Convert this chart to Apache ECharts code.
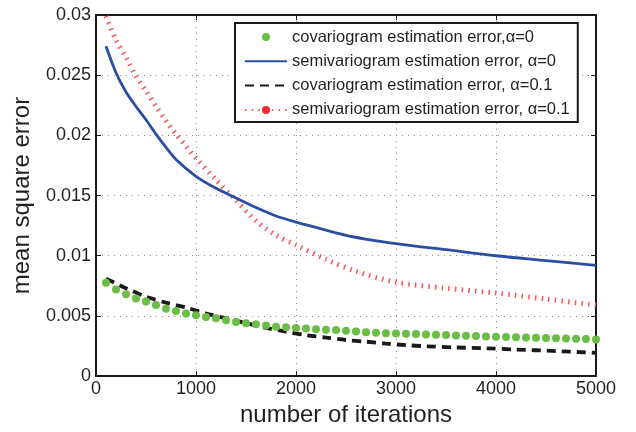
<!DOCTYPE html>
<html>
<head>
<meta charset="utf-8">
<script src="https://cdn.jsdelivr.net/npm/echarts@6/dist/echarts.min.js"></script>
<style>
  html, body { margin: 0; padding: 0; background: #fff; }
  #chart { width: 636px; height: 432px; }
</style>
</head>
<body>
<div id="chart"></div>
<script>
// values
var xTicks = [0, 1000, 2000, 3000, 4000, 5000];
var yTicks = [0, 0.005, 0.01, 0.015, 0.02, 0.025, 0.03];

// green dots, alpha=0 covariogram (one dot every 100 iterations)
var covIter = [100,200,300,400,500,600,700,800,900,1000,1100,1200,1300,1400,1500,1600,1700,1800,1900,2000,
  2100,2200,2300,2400,2500,2600,2700,2800,2900,3000,3100,3200,3300,3400,3500,3600,3700,3800,3900,4000,
  4100,4200,4300,4400,4500,4600,4700,4800,4900,5000];
var cov0 = [0.00775,0.0072,0.0068,0.00645,0.0062,0.0059,0.0056,0.0054,0.0052,0.00505,
  0.0049,0.0048,0.00465,0.0045,0.0044,0.0043,0.0042,0.0041,0.00405,0.0040,
  0.00396,0.0039,0.00385,0.00382,0.00376,0.00371,0.00365,0.0036,0.00357,0.00354,
  0.00352,0.00349,0.00346,0.00344,0.00341,0.00338,0.00335,0.00333,0.0033,0.00327,
  0.00325,0.00322,0.0032,0.00318,0.00316,0.00314,0.00312,0.0031,0.00308,0.00305];

// blue solid, alpha=0 semivariogram
var semi0Iter = [100,200,300,400,500,600,700,800,1000,1200,1400,1600,1800,2000,2500,3000,3500,4000,4500,5000];
var semi0 = [0.0274,0.0252,0.0236,0.0224,0.0213,0.0201,0.0190,0.0180,0.0166,0.0156,0.0148,0.0140,0.0133,0.0128,0.0117,0.0110,0.0105,0.0100,0.0096,0.0092];

// black dashed, alpha=0.1 covariogram
var cov1Iter = [100,300,500,700,900,1100,1300,1500,1700,1900,2100,2300,2500,2700,2900,3100,3300,3600,3900,4200,4600,5000];
var cov1 = [0.0081,0.0073,0.0066,0.0061,0.0057,0.0052,0.0048,0.0044,0.0040,0.0037,0.0034,0.0032,0.0030,0.00286,0.0027,0.00257,0.00248,0.00238,0.00231,0.00221,0.00208,0.00193];

// red dotted, alpha=0.1 semivariogram
var semi1Iter = [100,200,300,400,500,600,700,800,900,1000,1200,1400,1600,1800,2000,2300,2600,3000,3500,4000,4500,5000];
var semi1 = [0.0299,0.0279,0.0265,0.0249,0.0237,0.0224,0.0212,0.0201,0.0191,0.0181,0.0163,0.0146,0.0129,0.0117,0.0109,0.0097,0.0087,0.0078,0.0073,0.0069,0.0064,0.0059];

var names = [
  'covariogram estimation error,α=0',
  'semivariogram estimation error, α=0',
  'covariogram estimation error, α=0.1',
  'semivariogram estimation error, α=0.1'
];

function pairs(xs, ys) {
  var out = [];
  for (var i = 0; i < xs.length; i++) out.push([xs[i], ys[i]]);
  return out;
}

var txt = '#231f20';
var font = '"Liberation Sans", Arial, Helvetica, sans-serif';
// hide the legend marker for the plain line entries
var noMark = { color: 'rgba(0,0,0,0)', borderWidth: 0, borderColor: 'rgba(0,0,0,0)' };

var chart = echarts.init(document.getElementById('chart'), null, { renderer: 'canvas' });

var option = {
  animation: false,
  backgroundColor: '#fff',
  textStyle: { fontFamily: font, color: txt },
  grid: { left: 96, right: 40, top: 15, bottom: 53 },
  legend: {
    orient: 'vertical',
    left: 235,
    top: 23,
    padding: [5, 8, 3, 9],
    borderColor: '#1a1a1a',
    borderWidth: 2,
    backgroundColor: '#fff',
    itemWidth: 42,
    itemHeight: 10,
    itemGap: 6.3,
    textStyle: { fontSize: 16.5, lineHeight: 18, color: txt, fontFamily: font },
    data: [
      { name: names[0] },
      { name: names[1], itemStyle: noMark },
      { name: names[2], itemStyle: noMark },
      { name: names[3] }
    ]
  },
  xAxis: [{
    type: 'value',
    min: xTicks[0],
    max: xTicks[xTicks.length - 1],
    interval: 1000,
    name: 'number of iterations',
    nameLocation: 'middle',
    nameGap: 20,
    nameTextStyle: { fontSize: 24, color: txt, verticalAlign: 'top' },
    axisLine: { onZero: false, lineStyle: { color: '#1a1a1a', width: 2 } },
    axisTick: { inside: true, length: 5, lineStyle: { color: '#1a1a1a', width: 1 } },
    axisLabel: { fontSize: 18, color: txt, margin: 4, formatter: function (v) { return String(v); } },
    splitLine: { show: true, lineStyle: { color: '#8a8a8a', width: 1, type: [1, 5] } }
  }, {
    type: 'value',
    position: 'top',
    min: xTicks[0],
    max: xTicks[xTicks.length - 1],
    interval: 1000,
    axisLine: { onZero: false, lineStyle: { color: '#1a1a1a', width: 2 } },
    axisTick: { inside: true, length: 5, lineStyle: { color: '#1a1a1a', width: 1 } },
    axisLabel: { show: false },
    splitLine: { show: false }
  }],
  yAxis: [{
    type: 'value',
    min: yTicks[0],
    max: yTicks[yTicks.length - 1],
    interval: 0.005,
    name: 'mean square error',
    nameLocation: 'middle',
    nameGap: 62,
    nameTextStyle: { fontSize: 24, color: txt },
    axisLine: { show: true, onZero: false, lineStyle: { color: '#1a1a1a', width: 2 } },
    axisTick: { show: true, inside: true, length: 5, lineStyle: { color: '#1a1a1a', width: 1 } },
    axisLabel: { fontSize: 18, color: txt, margin: 5 },
    splitLine: { show: true, lineStyle: { color: '#8a8a8a', width: 1, type: [1, 5] } }
  }, {
    type: 'value',
    position: 'right',
    min: yTicks[0],
    max: yTicks[yTicks.length - 1],
    interval: 0.005,
    axisLine: { show: true, onZero: false, lineStyle: { color: '#1a1a1a', width: 2 } },
    axisTick: { show: true, inside: true, length: 5, lineStyle: { color: '#1a1a1a', width: 1 } },
    axisLabel: { show: false },
    splitLine: { show: false }
  }],
  series: [
    {
      name: names[3],
      type: 'line',
      data: pairs(semi1Iter, semi1),
      symbol: 'circle',
      showSymbol: false,
      smooth: 0.3,
      itemStyle: { color: '#f4282d' },
      lineStyle: { color: '#f4565b', width: 5, type: [1.5, 5.2], cap: 'butt' },
      z: 2
    },
    {
      name: names[1],
      type: 'line',
      data: pairs(semi0Iter, semi0),
      symbol: 'circle',
      showSymbol: false,
      smooth: 0.3,
      itemStyle: { color: '#2b4ea2' },
      lineStyle: { color: '#2b4ea2', width: 2.8 },
      z: 3
    },
    {
      name: names[2],
      type: 'line',
      data: pairs(cov1Iter, cov1),
      symbol: 'circle',
      showSymbol: false,
      smooth: 0.3,
      itemStyle: { color: '#1a1a1a' },
      lineStyle: { color: '#1a1a1a', width: 3.8, type: [9, 6], cap: 'butt' },
      z: 3
    },
    {
      name: names[0],
      type: 'line',
      data: pairs(covIter, cov0),
      symbol: 'circle',
      symbolSize: 8,
      showSymbol: true,
      itemStyle: { color: '#6abd45', borderWidth: 0 },
      lineStyle: { width: 0, opacity: 0 },
      z: 4
    }
  ]
};

chart.setOption(option);
</script>
</body>
</html>
